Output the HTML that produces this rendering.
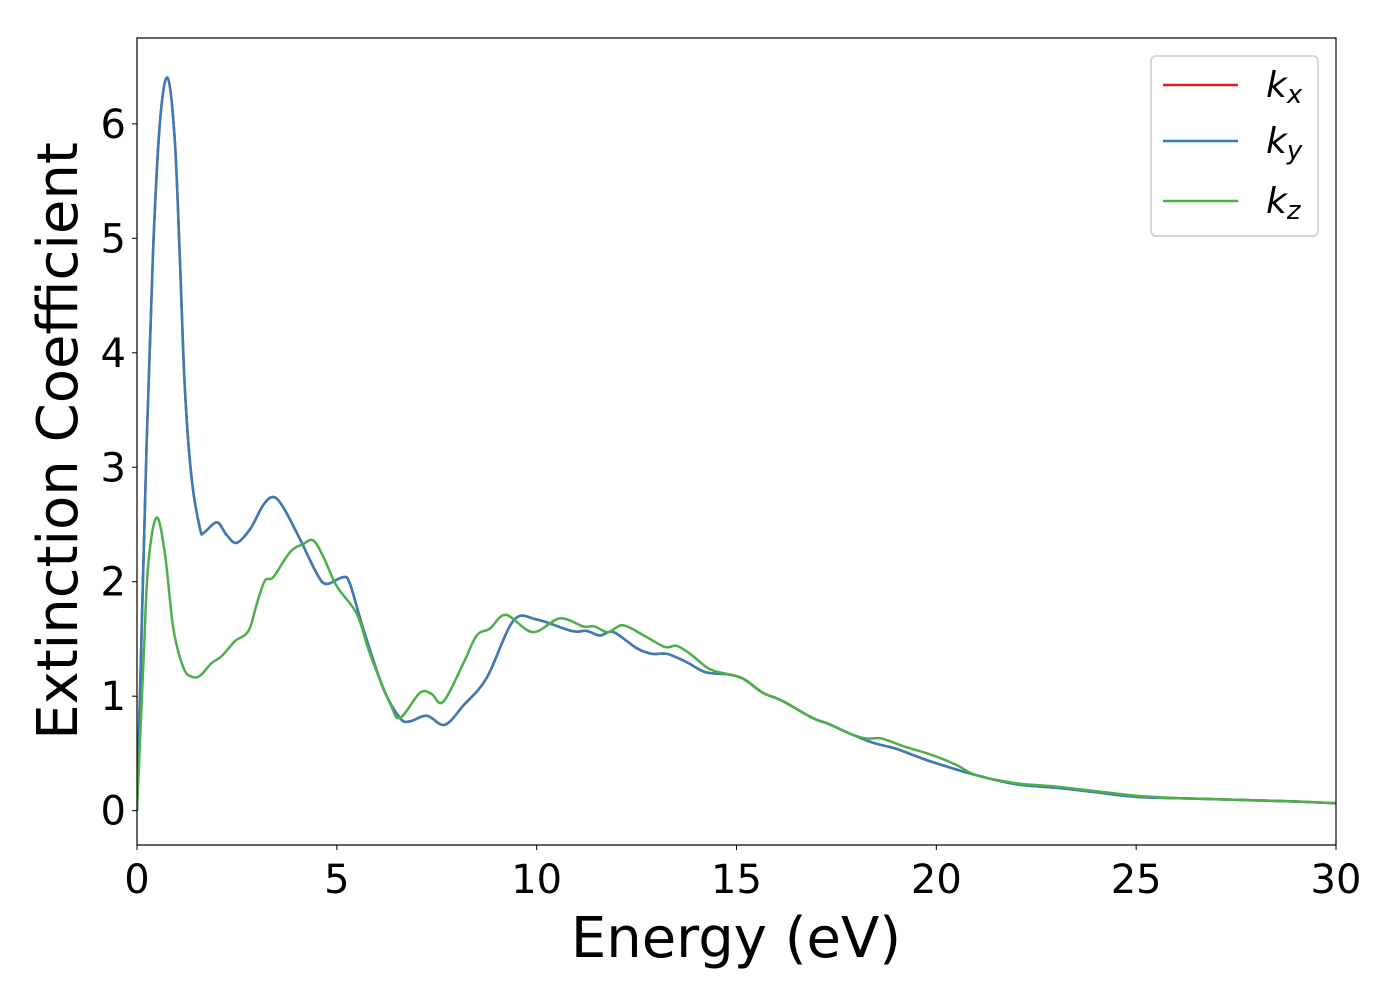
<!DOCTYPE html>
<html><head><meta charset="utf-8"><style>
html,body{margin:0;padding:0;background:#fff;}
svg{display:block;font-family:"DejaVu Sans","Liberation Sans",sans-serif;}
</style></head><body>
<svg id="chart" width="1400" height="1000" viewBox="0 0 1400 1000">
<rect x="0" y="0" width="1400" height="1000" fill="#fff"/>
<g id="plot"></g>
<g id="axes"></g>
<text x="736" y="957" font-size="56" text-anchor="middle">Energy (eV)</text>
<text transform="translate(77,441) rotate(-90)" font-size="56" text-anchor="middle">Extinction Coefficient</text>
<g>
<rect x="1151" y="56" width="167" height="180" rx="5" fill="#fff" fill-opacity="0.8" stroke="#ccc" stroke-width="1.5"/>
<line x1="1163" y1="85" x2="1238" y2="85" stroke="#e41a1c" stroke-width="2.5"/>
<text x="1266" y="97" font-size="36" font-style="italic">k<tspan font-size="26" dy="6">x</tspan></text>
<line x1="1163" y1="141" x2="1238" y2="141" stroke="#377eb8" stroke-width="2.5"/>
<text x="1266" y="153" font-size="36" font-style="italic">k<tspan font-size="26" dy="6">y</tspan></text>
<line x1="1163" y1="201" x2="1238" y2="201" stroke="#4daf4a" stroke-width="2.5"/>
<text x="1266" y="213" font-size="36" font-style="italic">k<tspan font-size="26" dy="6">z</tspan></text>
</g>
</svg>
<script>
const energyXY = [0,0.24,0.41,0.58,0.77,0.95,1.08,1.2,1.37,1.58,1.68,2.0,2.24,2.49,2.83,3.16,3.41,3.66,4.08,4.5,4.74,5.16,5.33,5.66,6.16,6.58,6.83,7.25,7.7,8.17,8.75,9.42,10.0,10.87,11.25,11.58,11.92,12.5,12.88,13.26,13.74,14.22,14.8,15.18,15.66,16.14,16.9,17.29,17.86,18.44,19.0,19.86,21,22,23,24,25,26,27,28,29,30];
const kxyValues = [0,3.2,4.96,6.04,6.40,5.83,4.75,3.67,2.89,2.46,2.43,2.52,2.41,2.34,2.46,2.67,2.74,2.65,2.37,2.07,1.98,2.04,1.98,1.59,1.07,0.81,0.78,0.83,0.75,0.92,1.16,1.66,1.67,1.57,1.57,1.53,1.56,1.42,1.37,1.37,1.30,1.21,1.19,1.15,1.03,0.96,0.81,0.76,0.67,0.59,0.54,0.43,0.31,0.23,0.20,0.16,0.12,0.11,0.10,0.09,0.08,0.065];
const energyZ = [0,0.16,0.28,0.49,0.7,0.91,1.16,1.37,1.58,1.87,2.12,2.45,2.79,3.0,3.2,3.41,3.83,4.16,4.41,4.66,5.0,5.5,5.83,6.33,6.58,7.08,7.37,7.66,8.17,8.5,8.83,9.23,9.9,10.58,11.16,11.44,11.78,12.16,12.68,13.21,13.5,13.84,14.31,14.8,15.18,15.66,16.14,16.9,17.29,17.86,18.25,18.63,19.2,19.86,20.5,21,22,23,24,25,26,27,28,29,30];
const kzValues = [0,1.29,2.15,2.56,2.24,1.59,1.25,1.17,1.18,1.29,1.35,1.48,1.57,1.81,2.01,2.04,2.26,2.33,2.36,2.22,1.96,1.72,1.37,0.94,0.81,1.03,1.02,0.95,1.29,1.53,1.59,1.71,1.56,1.68,1.61,1.61,1.56,1.62,1.53,1.43,1.44,1.37,1.24,1.19,1.15,1.03,0.96,0.81,0.76,0.67,0.63,0.63,0.56,0.49,0.40,0.31,0.24,0.21,0.17,0.13,0.11,0.10,0.09,0.08,0.065];
const xTicks = [0,5,10,15,20,25,30];
const yTicks = [0,1,2,3,4,5,6];

const L=137,R=1336,T=38,B=845;
const xMin=0,xMax=30,yMin=-0.3,yMax=6.75;
const sx=v=>L+(v-xMin)/(xMax-xMin)*(R-L);
const sy=v=>B-(v-yMin)/(yMax-yMin)*(B-T);
const NS='http://www.w3.org/2000/svg';
function path(xs,ys){
  const p=xs.map((x,i)=>[sx(x),sy(ys[i])]);
  let d='M'+p[0][0].toFixed(1)+','+p[0][1].toFixed(1);
  for(let i=0;i<p.length-1;i++){
    const p0=p[Math.max(0,i-1)],p1=p[i],p2=p[i+1],p3=p[Math.min(p.length-1,i+2)];
    const c1=[p1[0]+(p2[0]-p0[0])/6,p1[1]+(p2[1]-p0[1])/6];
    const c2=[p2[0]-(p3[0]-p1[0])/6,p2[1]-(p3[1]-p1[1])/6];
    d+='C'+c1[0].toFixed(1)+','+c1[1].toFixed(1)+' '+c2[0].toFixed(1)+','+c2[1].toFixed(1)+' '+p2[0].toFixed(1)+','+p2[1].toFixed(1);
  }
  return d;
}
const plot=document.getElementById('plot');
const clip=document.createElementNS(NS,'clipPath');clip.setAttribute('id','cp');
const cr=document.createElementNS(NS,'rect');cr.setAttribute('x',L);cr.setAttribute('y',T);cr.setAttribute('width',R-L);cr.setAttribute('height',B-T);
clip.appendChild(cr);plot.appendChild(clip);
function addLine(xs,ys,color,name){
  const el=document.createElementNS(NS,'path');
  el.setAttribute('d',path(xs,ys));el.setAttribute('fill','none');el.setAttribute('stroke',color);
  el.setAttribute('stroke-width','2.5');el.setAttribute('clip-path','url(#cp)');
  
  
  plot.appendChild(el);
}
addLine(energyXY,kxyValues,'#e41a1c','series-kx');
addLine(energyXY,kxyValues,'#377eb8','series-ky');
addLine(energyZ,kzValues,'#4daf4a','series-kz');

const axes=document.getElementById('axes');
const frame=document.createElementNS(NS,'rect');
frame.setAttribute('x',L);frame.setAttribute('y',T);frame.setAttribute('width',R-L);frame.setAttribute('height',B-T);
frame.setAttribute('fill','none');frame.setAttribute('stroke','#000');frame.setAttribute('stroke-width','1.2');


axes.appendChild(frame);
xTicks.forEach(t=>{
  const x=sx(t);
  const ln=document.createElementNS(NS,'line');
  ln.setAttribute('x1',x);ln.setAttribute('x2',x);ln.setAttribute('y1',B);ln.setAttribute('y2',B+5);ln.setAttribute('stroke','#000');
  
  
  axes.appendChild(ln);
  const tx=document.createElementNS(NS,'text');
  tx.setAttribute('x',x);tx.setAttribute('y',893);tx.setAttribute('font-size','40');tx.setAttribute('text-anchor','middle');
  tx.textContent=t;
  
  
  axes.appendChild(tx);
});
yTicks.forEach(t=>{
  const y=sy(t);
  const ln=document.createElementNS(NS,'line');
  ln.setAttribute('x1',L-5);ln.setAttribute('x2',L);ln.setAttribute('y1',y);ln.setAttribute('y2',y);ln.setAttribute('stroke','#000');
  
  
  axes.appendChild(ln);
  const tx=document.createElementNS(NS,'text');
  tx.setAttribute('x',126);tx.setAttribute('y',y+14);tx.setAttribute('font-size','40');tx.setAttribute('text-anchor','end');
  tx.textContent=t;
  
  
  axes.appendChild(tx);
});
</script>
</body></html>
